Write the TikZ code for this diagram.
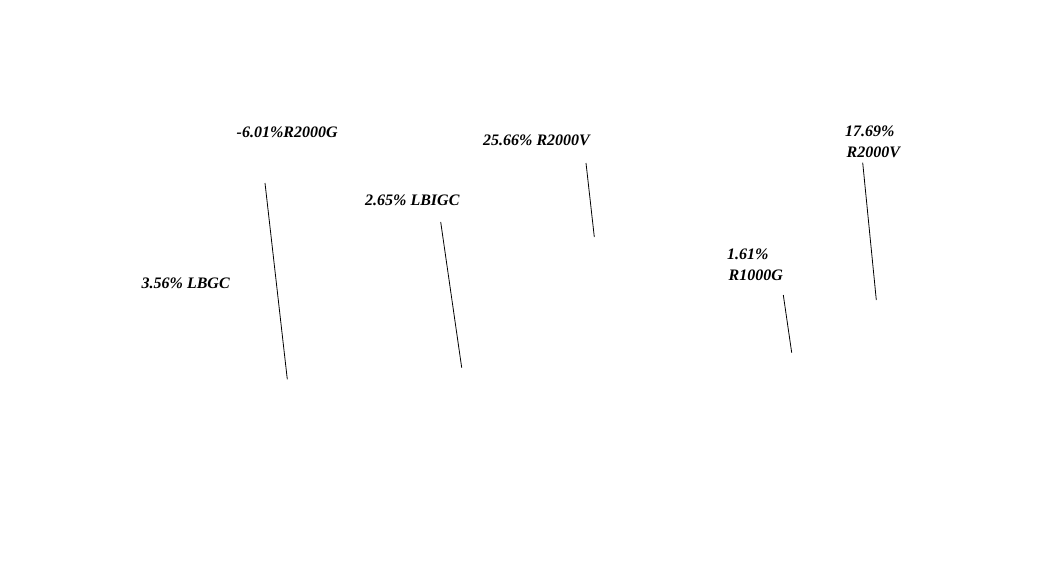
\documentclass[tikz,border=0pt]{standalone}
\usepackage{fontspec}
\setmainfont{Liberation Serif}
\begin{document}
\begin{tikzpicture}[x=1pt, y=-1pt,
        lbl/.style={anchor=base west, inner sep=0pt, align=left, font=\fontsize{16}{21}\selectfont\bfseries\itshape}]
        \useasboundingbox (0, 0) rectangle (1046, 576);
        % labels
        \node[lbl] (rg) at (236.5, 137) {-6.01\%R2000G};
        \node[lbl] (lbigc) at (365, 205) {2.65\% LBIGC};
        \node[lbl] (lbgc) at (141.5, 288.5) {3.56\% LBGC};
        \node[lbl] (rva) at (483, 145.5) {25.66\% R2000V};
        \node[lbl] (rvb) at (845, 157) {17.69\%\\\hspace{1.5pt}R2000V};
        \node[lbl] (rkg) at (727, 280) {1.61\%\\\hspace{1.5pt}R1000G};
        % lines
        \coordinate (a1) at (265, 183);   \coordinate (a2) at (287.3, 379.3);
        \coordinate (b1) at (440.7, 222); \coordinate (b2) at (461.7, 367.7);
        \coordinate (c1) at (586, 163);   \coordinate (c2) at (594.3, 237);
        \coordinate (d1) at (783.3, 295); \coordinate (d2) at (791.7, 352.7);
        \coordinate (e1) at (862.7, 162.7); \coordinate (e2) at (876.3, 300);
        \draw[line width=0.8pt] (a1) -- (a2);
        \draw[line width=0.8pt] (b1) -- (b2);
        \draw[line width=0.8pt] (c1) -- (c2);
        \draw[line width=0.8pt] (d1) -- (d2);
        \draw[line width=0.8pt] (e1) -- (e2);
\end{tikzpicture}
\end{document}
